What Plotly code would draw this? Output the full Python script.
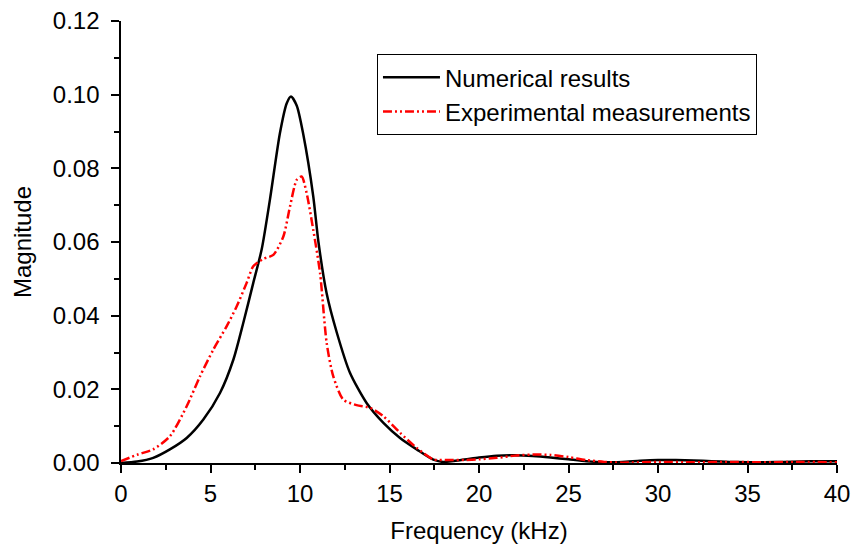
import plotly.graph_objects as go

num_freq = [0, 0.9, 1.8, 2.73, 3.67, 4.6, 5.53, 6.28, 6.83, 7.39, 7.86, 8.32, 8.88, 9.26, 9.5, 9.82, 10.18, 10.74, 11.03, 11.49, 12.05, 12.79, 13.72, 14.66, 15.59, 16.52, 17.45, 18.0, 19.0, 20.0, 21.0, 22.0, 23.0, 24.0, 25.0, 26.0, 27.0, 28.0, 29.0, 30.0, 31.0, 32.0, 33.0, 34.0, 35.0, 36.0, 37.0, 38.0, 39.0, 40.0]
num_mag = [0, 0.0004, 0.0014, 0.0037, 0.0068, 0.0118, 0.019, 0.0281, 0.038, 0.0489, 0.058, 0.0715, 0.0896, 0.0977, 0.0995, 0.0970, 0.0893, 0.0724, 0.060, 0.046, 0.0355, 0.0245, 0.0163, 0.0109, 0.0068, 0.0037, 0.0009, 0.0003, 0.0008, 0.0015, 0.002, 0.0021, 0.0019, 0.0015, 0.001, 0.0005, 0.0002, 0.0003, 0.0006, 0.0008, 0.0008, 0.0007, 0.0005, 0.0003, 0.0002, 0.0002, 0.0003, 0.0004, 0.0005, 0.0005]

exp_freq = [0, 0.93, 1.8, 2.74, 3.67, 4.41, 5.16, 5.9, 6.46, 7.02, 7.39, 7.95, 8.51, 9.07, 9.44, 9.82, 10.09, 10.37, 10.74, 11.12, 11.49, 11.86, 12.42, 13.16, 13.91, 14.66, 15.59, 16.52, 17.45, 18.38, 19.2, 20.0, 21.0, 22.0, 23.0, 24.0, 25.0, 26.0, 27.0, 28.0, 30.0, 32.0, 34.0, 36.0, 38.0, 40.0]
exp_mag = [0.0005, 0.0023, 0.0037, 0.0073, 0.0154, 0.0235, 0.0308, 0.0371, 0.0425, 0.0489, 0.0534, 0.0554, 0.0565, 0.0615, 0.0696, 0.0769, 0.0778, 0.0733, 0.0633, 0.0516, 0.0326, 0.0235, 0.0172, 0.0157, 0.015, 0.0127, 0.0082, 0.0041, 0.001, 0.0008, 0.0008, 0.001, 0.0014, 0.002, 0.0023, 0.0022, 0.0016, 0.0008, 0.0003, 0.0001, 0.0003, 0.0002, 0.0003, 0.0002, 0.0003, 0.0002]

fig = go.Figure()
fig.add_trace(go.Scatter(x=num_freq, y=num_mag, mode="lines", name="Numerical results",
                         line=dict(color="black", width=2.5, shape="spline", smoothing=0.7)))
fig.add_trace(go.Scatter(x=exp_freq, y=exp_mag, mode="lines", name="Experimental measurements",
                         line=dict(color="red", width=2.5, shape="spline", smoothing=0.7,
                                   dash="9px,3px,2px,3px,2px,3px")))

FAM = "Liberation Sans, Arial, sans-serif"
font = dict(family=FAM, size=24, color="black")
fig.update_layout(
    width=853, height=551,
    margin=dict(l=121, r=16, t=21, b=88, autoexpand=False),
    plot_bgcolor="white", paper_bgcolor="white",
    font=font,
    showlegend=True,
    legend=dict(x=0.3575, y=0.925, xanchor="left", yanchor="top",
                bordercolor="black", borderwidth=1, bgcolor="white",
                font=dict(family=FAM, size=24, color="black"),
                tracegroupgap=0, itemwidth=57),
)
fig.update_xaxes(range=[0, 40], tickmode="linear", tick0=0, dtick=5, automargin=False,
                 ticklabeloverflow="allow",
                 showgrid=False, zeroline=False,
                 showline=True, linecolor="black", linewidth=2,
                 ticks="outside", ticklen=8, tickwidth=2, tickcolor="black",
                 minor=dict(ticks="outside", ticklen=5, tickwidth=2, tickcolor="black", dtick=2.5, tick0=0, showgrid=False),
                 title=dict(text="Frequency (kHz)", font=font, standoff=16),
                 tickfont=font)
fig.update_yaxes(range=[0, 0.12], tickmode="linear", tick0=0, dtick=0.02, tickformat=".2f", ticksuffix=" ",
                 automargin=False, ticklabeloverflow="allow",
                 showgrid=False, zeroline=False,
                 showline=True, linecolor="black", linewidth=2,
                 ticks="outside", ticklen=8, tickwidth=2, tickcolor="black",
                 minor=dict(ticks="outside", ticklen=5, tickwidth=2, tickcolor="black", dtick=0.01, tick0=0, showgrid=False),
                 title=dict(text="Magnitude", font=font, standoff=14),
                 tickfont=font)

# remove the browser's default 8px body margin so the figure fills the window exactly
fig.write_html("out.html", config={"displayModeBar": False},
               post_script="document.body.style.margin='0';document.body.style.overflow='hidden';")
